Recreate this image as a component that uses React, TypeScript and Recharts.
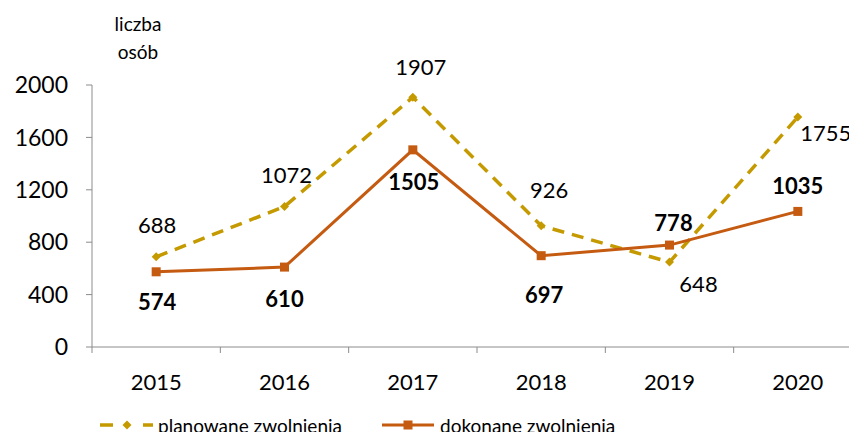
import { LineChart, Line, XAxis, YAxis, LabelList, Legend } from "recharts";

// ---- data -----------------------------------------------------------------
const years = ["2015", "2016", "2017", "2018", "2019", "2020"];
const planowane = [688, 1072, 1907, 926, 648, 1755];
const dokonane = [574, 610, 1505, 697, 778, 1035];
const yTicks = [0, 400, 800, 1200, 1600, 2000];

const data = years.map((year, i) => ({
    year,
    planowane: planowane[i],
    dokonane: dokonane[i],
}));

// ---- styling --------------------------------------------------------------
const GOLD = "#C49A00";
const ORANGE = "#C55A11";
const AXIS = "#8c8c8c";
const FONT = "Lato, 'Open Sans', sans-serif";

const CHART_W = 870;
const CHART_H = 440;
const Y_AXIS_W = 92;
const PLOT_W = 770;
const BAND = PLOT_W / years.length;

// label placement relative to each point (dx, dy)
const planOffsets = [[1, -32], [2, -32], [8, -31], [8, -36], [29, 21], [28, 15]];
const dokOffsets = [[1, 30], [0, 31], [1, 32], [3, 39], [4, -23], [0, -26]];

const makeLabel = (offsets: number[][], bold: boolean) => (props: any) => {
    const { x, y, index, value } = props;
    const [dx, dy] = offsets[index] || [0, 0];
    return (
        <text
            x={x + dx}
            y={y + dy}
            textAnchor="middle"
            dominantBaseline="central"
            fontSize={22}
            fontWeight={bold ? 700 : 400}
            fill="#000"
            fontFamily={FONT}
        >
            {value}
        </text>
    );
};

const Diamond = (props: any) => {
    const { cx, cy, index } = props;
    if (cx == null || cy == null) return <g key={`d-${index}`} />;
    const r = 4.5;
    return (
        <path
            key={`d-${index}`}
            d={`M${cx},${cy - r} L${cx + r},${cy} L${cx},${cy + r} L${cx - r},${cy} Z`}
            fill={GOLD}
        />
    );
};

const Square = (props: any) => {
    const { cx, cy, index } = props;
    if (cx == null || cy == null) return <g key={`s-${index}`} />;
    return <rect key={`s-${index}`} x={cx - 4.5} y={cy - 4.5} width={9} height={9} fill={ORANGE} />;
};

const YearTick = (props: any) => {
    const { x, y, payload, index } = props;
    const last = index === years.length - 1;
    return (
        <g>
            <line x1={x - BAND / 2} y1={y} x2={x - BAND / 2} y2={y + 6} stroke={AXIS} strokeWidth={1} />
            {last && <line x1={x + BAND / 2} y1={y} x2={x + BAND / 2} y2={y + 6} stroke={AXIS} strokeWidth={1} />}
            <text x={x} y={y + 34} textAnchor="middle" dominantBaseline="central" fontSize={22} fill="#000" fontFamily={FONT}>
                {payload.value}
            </text>
        </g>
    );
};

const LegendContent = () => (
    <div
        style={{
            display: "flex",
            alignItems: "center",
            paddingLeft: 100,
            height: 30,
            fontFamily: FONT,
            fontSize: 19,
            color: "#000",
        }}
    >
        <svg width={55} height={20}>
            <line x1={0} y1={10} x2={13} y2={10} stroke={GOLD} strokeWidth={3.5} />
            <path d="M27,5.5 L31.5,10 L27,14.5 L22.5,10 Z" fill={GOLD} />
            <line x1={43} y1={10} x2={53} y2={10} stroke={GOLD} strokeWidth={3.5} />
        </svg>
        <span style={{ marginLeft: 3 }}>planowane zwolnienia</span>
        <svg width={53} height={20} style={{ marginLeft: 40 }}>
            <line x1={0} y1={10} x2={52} y2={10} stroke={ORANGE} strokeWidth={3} />
            <rect x={21.5} y={5.5} width={9} height={9} fill={ORANGE} />
        </svg>
        <span style={{ marginLeft: 5 }}>dokonane zwolnienia</span>
    </div>
);

export default function App() {
    return (
        <div
            style={{
                position: "relative",
                margin: -8,
                width: 857,
                height: 440,
                overflow: "hidden",
                background: "#fff",
                fontFamily: FONT,
            }}
        >
            <div
                style={{
                    position: "absolute",
                    left: 100,
                    top: 10,
                    width: 76,
                    textAlign: "center",
                    fontSize: 19,
                    lineHeight: "28px",
                    color: "#000",
                    zIndex: 2,
                }}
            >
                liczba
                <br />
                osób
            </div>
            <LineChart
                width={CHART_W}
                height={CHART_H}
                data={data}
                margin={{ top: 85, right: CHART_W - Y_AXIS_W - PLOT_W, left: 0, bottom: 0 }}
            >
                <XAxis
                    dataKey="year"
                    axisLine={{ stroke: AXIS }}
                    tickLine={false}
                    tickSize={0}
                    tickMargin={0}
                    height={63}
                    tick={<YearTick />}
                    interval={0}
                    padding={{ left: BAND / 2, right: BAND / 2 }}
                />
                <YAxis
                    width={Y_AXIS_W}
                    domain={[0, 2000]}
                    ticks={yTicks}
                    axisLine={{ stroke: AXIS }}
                    tickLine={{ stroke: AXIS }}
                    tickSize={6}
                    tickMargin={18}
                    tick={{ fill: "#000", fontSize: 23, fontFamily: FONT }}
                    interval={0}
                />
                <Legend
                    verticalAlign="bottom"
                    align="left"
                    height={30}
                    wrapperStyle={{ left: 0, width: 857 }}
                    content={<LegendContent />}
                />
                <Line
                    dataKey="planowane"
                    stroke={GOLD}
                    strokeWidth={3.5}
                    strokeDasharray="12 8"
                    dot={Diamond}
                    activeDot={false}
                    isAnimationActive={false}
                >
                    <LabelList dataKey="planowane" content={makeLabel(planOffsets, false)} />
                </Line>
                <Line
                    dataKey="dokonane"
                    stroke={ORANGE}
                    strokeWidth={3}
                    dot={Square}
                    activeDot={false}
                    isAnimationActive={false}
                >
                    <LabelList dataKey="dokonane" content={makeLabel(dokOffsets, true)} />
                </Line>
            </LineChart>
        </div>
    );
}
